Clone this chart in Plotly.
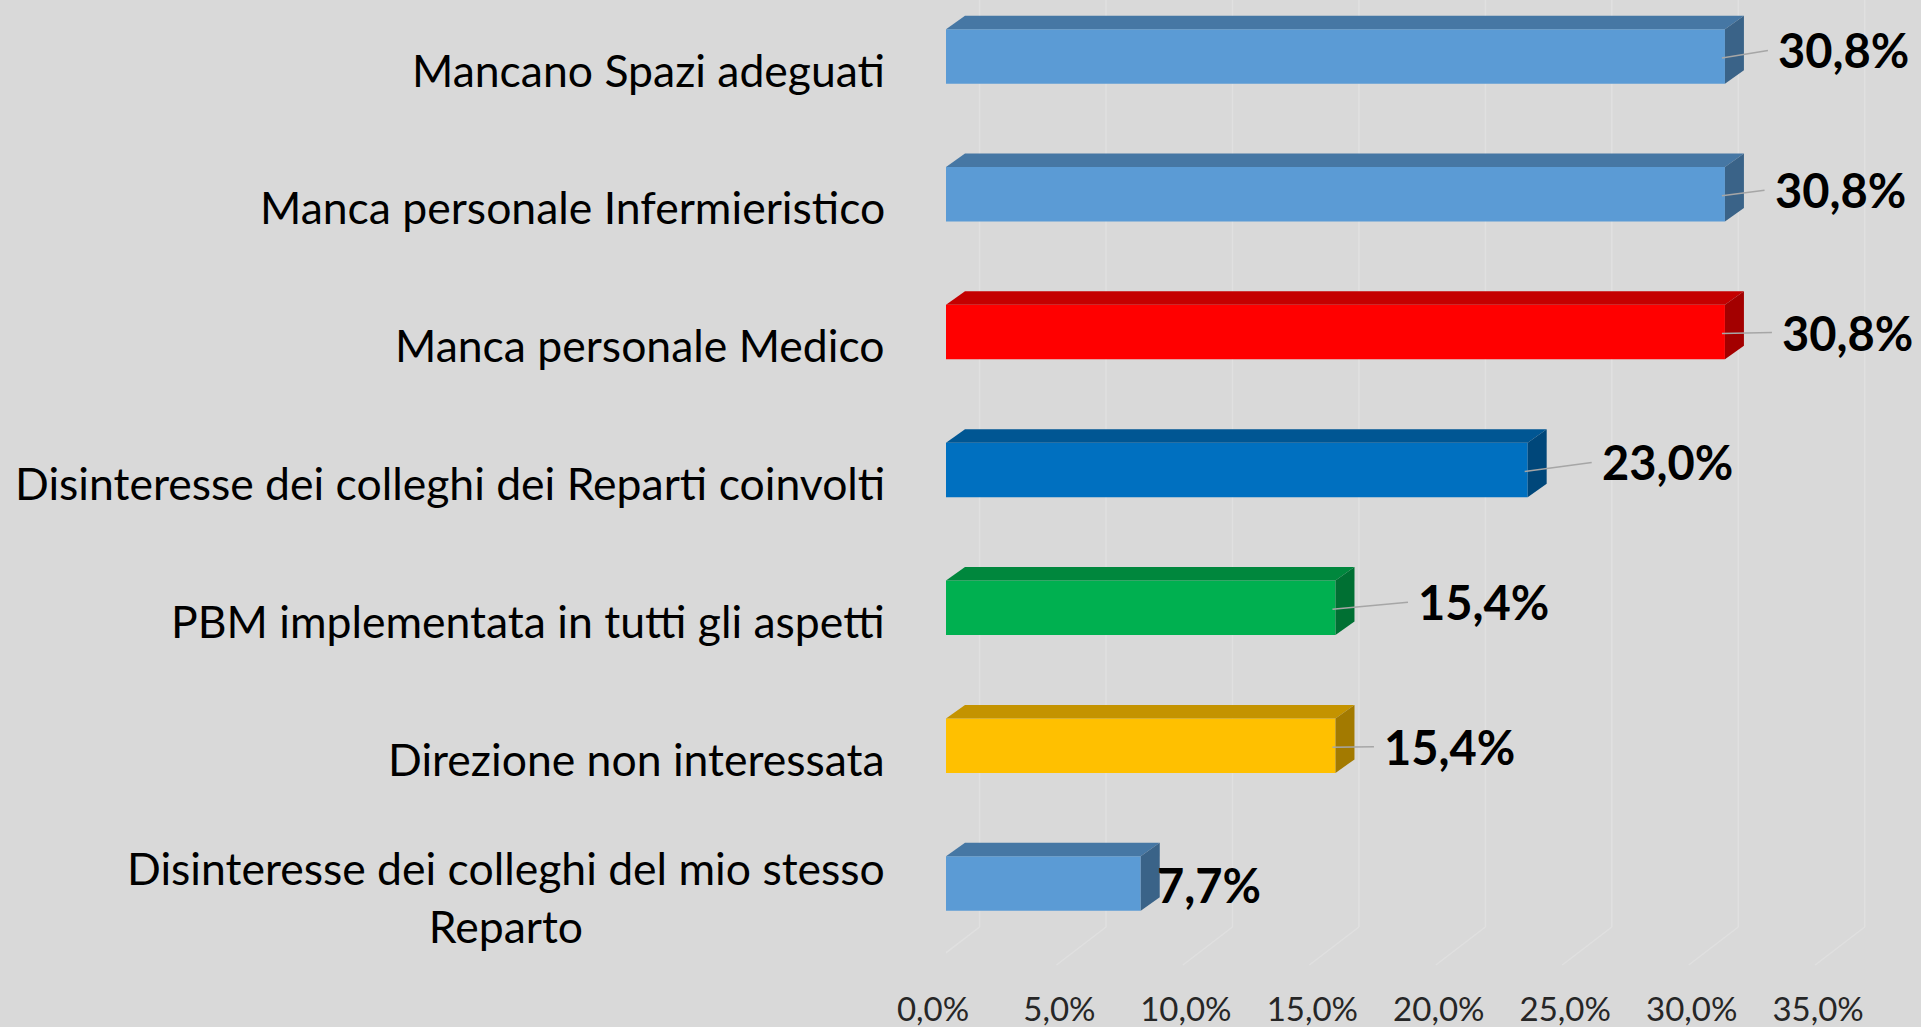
import plotly.graph_objects as go

# ---------------- data ----------------
categories = [
    "Mancano Spazi adeguati",
    "Manca personale Infermieristico",
    "Manca personale Medico",
    "Disinteresse dei colleghi dei Reparti coinvolti",
    "PBM implementata in tutti gli aspetti",
    "Direzione non interessata",
    "Disinteresse dei colleghi del mio stesso<br>Reparto",
]
values = [30.8, 30.8, 30.8, 23.0, 15.4, 15.4, 7.7]
tick_values = [0, 5, 10, 15, 20, 25, 30, 35]
tick_labels = ["0,0%", "5,0%", "10,0%", "15,0%", "20,0%", "25,0%", "30,0%", "35,0%"]

# ---------------- styles ----------------
front_colors = ["#5b9bd5", "#5b9bd5", "#ff0000", "#0070c0", "#00b050", "#ffc000", "#5b9bd5"]


def shade(hex_color, f):
    h = hex_color.lstrip("#")
    r, g, b = (int(h[i:i + 2], 16) for i in (0, 2, 4))
    return "#%02x%02x%02x" % (int(r * f), int(g * f), int(b * f))


top_colors = [shade(c, 0.77) for c in front_colors]
side_colors = [shade(c, 0.64) for c in front_colors]

# data-label placement tweaks (pixels)
label_dx = [51, 47.6, 55, 72, 80.5, 46.5, 14.5]
label_dy = [6, 4, -0.5, 7.5, 5.5, -1, -1.5]

W, H = 1921, 1027
ML, MR, MT, MB = 946, 14, 0, 62
plot_w = W - ML - MR
plot_h = H - MT - MB
px_per_unit = 25.29
pitch = 137.85
y_top = -56.4 / pitch
x_range = [0, plot_w / px_per_unit]
y_range = [y_top + plot_h / pitch, y_top]
bar_w = 54.5 / pitch
ddx = 19 / px_per_unit
ddy = 13.5 / pitch

BG = "#d9d9d9"
GRID = "#e0e0e0"
FONT = "Lato"

n = len(categories)
idx = list(range(n))

fig = go.Figure()

# front faces
fig.add_trace(go.Bar(
    x=values, y=idx, orientation="h", width=bar_w,
    marker=dict(color=front_colors, line=dict(width=0)),
    hoverinfo="skip", showlegend=False,
))

# top & side faces (3D effect)
for i, v in enumerate(values):
    yt = i - bar_w / 2
    yb = i + bar_w / 2
    fig.add_trace(go.Scatter(
        x=[0, v, v + ddx, ddx, 0], y=[yt, yt, yt - ddy, yt - ddy, yt],
        mode="lines", fill="toself", fillcolor=top_colors[i],
        line=dict(width=0), hoverinfo="skip", showlegend=False,
    ))
    fig.add_trace(go.Scatter(
        x=[v, v + ddx, v + ddx, v, v], y=[yt, yt - ddy, yb - ddy, yb, yt],
        mode="lines", fill="toself", fillcolor=side_colors[i],
        line=dict(width=0), hoverinfo="skip", showlegend=False,
    ))

shapes = []
# back wall + floor grid lines
back_floor = 1 - (927 - MT) / plot_h
for t in tick_values:
    shapes.append(dict(type="line", xref="x", xsizemode="pixel", xanchor=t,
                       x0=33.6, x1=33.6, yref="paper", y0=back_floor, y1=1,
                       line=dict(color=GRID, width=1.5), layer="below"))
    shapes.append(dict(type="line", xref="x", xsizemode="pixel", xanchor=t,
                       x0=33.6, x1=-16, yref="paper", y0=back_floor, y1=0,
                       line=dict(color=GRID, width=1.5), layer="below"))

# leader lines
for i, v in enumerate(values):
    if label_dx[i] > 20:
        shapes.append(dict(type="line", xref="x", xsizemode="pixel", xanchor=v,
                           x0=-3, x1=label_dx[i] - 8,
                           yref="y", ysizemode="pixel", yanchor=i,
                           y0=-1.5, y1=label_dy[i],
                           line=dict(color="#a6a6a6", width=1.5)))

annotations = []
label_right = (887 - ML) / plot_w
for i, c in enumerate(categories):
    annotations.append(dict(
        text=c, xref="paper", x=label_right, xanchor="right",
        yref="y", y=i, yanchor="middle", yshift=-12.7, align="center",
        showarrow=False, font=dict(family=FONT, size=44.5, color="#000000"),
    ))
for i, v in enumerate(values):
    annotations.append(dict(
        text=("%.1f" % v).replace(".", ",") + "%",
        xref="x", x=v, xanchor="left", xshift=label_dx[i],
        yref="y", y=i, yanchor="middle", yshift=label_dy[i],
        showarrow=False,
        font=dict(family=FONT, size=47, color="#000000", weight="bold"),
    ))

fig.update_layout(
    width=W, height=H, autosize=False,
    margin=dict(l=ML, r=MR, t=MT, b=MB, pad=0, autoexpand=False),
    paper_bgcolor=BG, plot_bgcolor=BG,
    showlegend=False,
    shapes=shapes, annotations=annotations,
    xaxis=dict(range=x_range, showgrid=False, zeroline=False, showline=False,
               automargin=False,
               tickvals=tick_values, ticktext=tick_labels,
               tickfont=dict(family=FONT, size=33, color="#262626"),
               ticks="", ticklabelshift=-13, ticklabelstandoff=22),
    yaxis=dict(range=y_range, showgrid=False, zeroline=False, showline=False,
               automargin=False, showticklabels=False, ticks=""),
)

fig.write_html("out.html", config={"displayModeBar": False},
               post_script="document.body.style.margin='0';document.body.style.overflow='hidden';")
